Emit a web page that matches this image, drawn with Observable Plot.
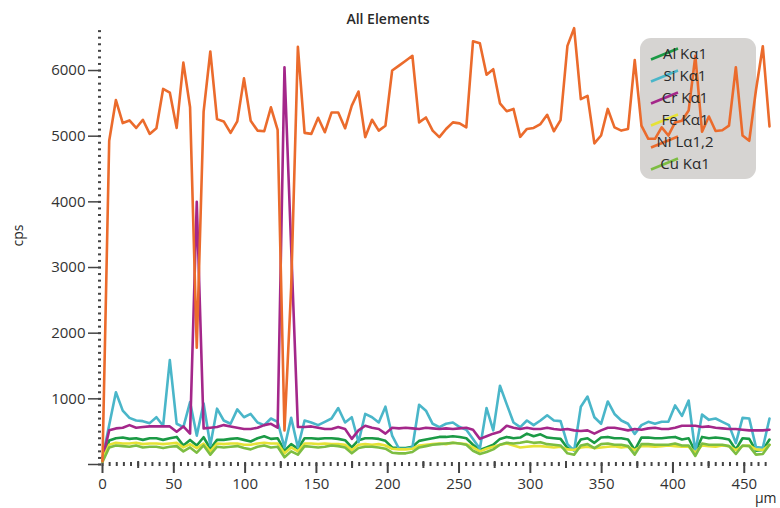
<!DOCTYPE html>
<html><head><meta charset="utf-8">
<script src="https://cdn.jsdelivr.net/npm/d3@7"></script>
<script src="https://cdn.jsdelivr.net/npm/@observablehq/plot@0.6"></script>
<style>
body{margin:0;background:#fff;}
#chart{width:780px;height:508px;}
</style></head><body><div id="chart"></div>
<script>
// distance along the line scan (µm)
const distanceUm = [
  0, 4.7, 9.4, 14.2, 18.9, 23.6, 28.3, 33.1, 37.8, 42.5,
  47.2, 52.0, 56.7, 61.4, 66.1, 70.9, 75.6, 80.3, 85.0, 89.8,
  94.5, 99.2, 103.9, 108.7, 113.4, 118.1, 122.8, 127.6, 132.3, 137.0,
  141.7, 146.4, 151.2, 155.9, 160.6, 165.3, 170.1, 174.8, 179.5, 184.2,
  189.0, 193.7, 198.4, 203.1, 207.9, 212.6, 217.3, 222.0, 226.8, 231.5,
  236.2, 240.9, 245.7, 250.4, 255.1, 259.8, 264.6, 269.3, 274.0, 278.7,
  283.4, 288.2, 292.9, 297.6, 302.3, 307.1, 311.8, 316.5, 321.2, 326.0,
  330.7, 335.4, 340.1, 344.9, 349.6, 354.3, 359.0, 363.8, 368.5, 373.2,
  377.9, 382.7, 387.4, 392.1, 396.8, 401.5, 406.3, 411.0, 415.7, 420.4,
  425.2, 429.9, 434.6, 439.3, 444.1, 448.8, 453.5, 458.2, 463.0, 467.7
];
const alKa1 = [
  60, 365, 400, 410, 390, 400, 375, 400, 400, 375,
  400, 420, 290, 375, 290, 415, 240, 375, 375, 390,
  400, 375, 350, 400, 430, 390, 400, 210, 310, 240,
  400, 400, 390, 400, 400, 390, 370, 260, 370, 400,
  400, 390, 360, 260, 250, 250, 270, 360, 380, 400,
  420, 420, 430, 420, 400, 300, 220, 260, 300, 390,
  420, 400, 410, 470, 430, 460, 410, 400, 390, 250,
  230, 380, 400, 330, 410, 420, 400, 400, 380, 220,
  410, 410, 400, 400, 410, 420, 380, 400, 190, 420,
  400, 410, 400, 380, 230, 400, 390, 210, 220, 380
];
const siKa1 = [
  100, 600, 1100, 820, 710, 670, 660, 630, 720, 590,
  1590, 620, 570, 950, 440, 930, 290, 850, 670, 620,
  840, 720, 770, 640, 600, 700, 650, 260, 710, 260,
  670, 640, 600, 650, 700, 860, 640, 720, 340, 770,
  720, 640, 880, 440, 240, 240, 260, 910, 820, 620,
  570, 620, 640, 570, 530, 390, 240, 860, 520, 1200,
  920, 640, 570, 670, 600, 670, 750, 670, 660, 310,
  210, 880, 1035, 720, 620, 960, 770, 670, 620, 465,
  600, 650, 620, 650, 650, 900, 740, 975, 190, 760,
  680, 700, 650, 600, 325, 710, 700, 265, 255, 700
];
const crKa1 = [
  90, 520, 550, 560, 600, 560, 570, 580, 580, 580,
  580, 500, 580, 470, 4000, 550, 560, 570, 600, 580,
  560, 540, 540, 560, 600, 620, 560, 6050, 3300, 570,
  570, 580, 560, 540, 540, 570, 540, 390, 520, 590,
  560, 540, 470, 560, 550, 560, 550, 540, 560, 550,
  540, 550, 540, 550, 560, 530, 390, 430, 470, 500,
  590, 560, 540, 560, 540, 540, 560, 540, 530, 540,
  520, 510, 520, 470, 520, 560, 560, 540, 520, 540,
  530, 550, 560, 540, 540, 560, 590, 590, 590, 570,
  580, 560, 550, 540, 540, 530, 520, 520, 520, 530
];
const feKa1 = [
  80, 300, 330, 320, 320, 330, 310, 320, 320, 310,
  320, 330, 260, 310, 250, 320, 200, 320, 310, 320,
  320, 300, 300, 320, 330, 320, 320, 170, 260, 200,
  320, 320, 310, 320, 310, 310, 300, 220, 300, 310,
  300, 310, 290, 240, 230, 230, 240, 290, 300, 310,
  320, 310, 330, 320, 310, 260, 200, 240, 270, 300,
  320, 290, 260, 270, 280, 280, 270, 260, 270, 230,
  220, 260, 270, 250, 260, 270, 280, 260, 270, 220,
  280, 280, 270, 280, 290, 280, 270, 270, 180, 290,
  280, 270, 290, 280, 220, 280, 290, 230, 220, 300
];
const niLa12 = [
  50, 4930, 5550, 5200, 5240, 5125, 5250, 5035, 5120, 5720,
  5665, 5125, 6120, 5440, 1780, 5375, 6290, 5260, 5225, 5050,
  5225, 5880, 5235, 5085, 5075, 5440, 5095, 520, 2700, 6360,
  5050, 5035, 5280, 5060, 5360, 5360, 5120, 5465, 5680, 4985,
  5250, 5085, 5160, 6000, 6075, 6150, 6225, 5210, 5285, 5085,
  4985, 5110, 5210, 5195, 5135, 6445, 6415, 5935, 6020, 5500,
  5380, 5415, 4990, 5110, 5125, 5185, 5325, 5075, 5245, 6375,
  6645, 5565, 5615, 4890, 5010, 5415, 5135, 5085, 5110, 6160,
  5160, 4960, 4960, 5135, 5010, 5210, 5235, 5390, 6225, 5070,
  5300, 5080, 5090, 5160, 6050, 5010, 4930, 5700, 6370, 5150
];
const cuKa1 = [
  40, 260, 290, 280, 270, 290, 260, 270, 270, 250,
  270, 280, 200, 260, 180, 290, 150, 270, 260, 270,
  280, 250, 230, 270, 290, 260, 270, 110, 200, 150,
  280, 270, 260, 270, 290, 280, 260, 170, 250, 270,
  270, 260, 240, 180, 170, 170, 190, 260, 280, 300,
  310, 320, 330, 320, 300, 210, 160, 190, 230, 300,
  330, 320, 330, 350, 330, 340, 310, 300, 290, 170,
  150, 290, 310, 250, 310, 320, 300, 300, 280, 150,
  310, 310, 300, 300, 300, 320, 290, 290, 130, 320,
  300, 300, 300, 280, 160, 290, 280, 150, 160, 300
];

const seriesNames  = ["Al Kα1", "Si Kα1", "Cr Kα1", "Fe Kα1", "Ni Lα1,2", "Cu Kα1"];
const seriesValues = [alKa1, siKa1, crKa1, feKa1, niLa12, cuKa1];
const seriesColors = ["#1b9a45", "#4ab6c9", "#a4278a", "#e6e236", "#eb6b2c", "#7dbd42"];
const drawOrder    = [0, 1, 2, 3, 5, 4]; // Ni drawn last (over the legend box)

const yMajorTicks = [0, 1000, 2000, 3000, 4000, 5000, 6000];
const yTickLabels = ["", "1000", "2000", "3000", "4000", "5000", "6000"];
const yMinorStep = 100;
const xMajorTicks = [0, 50, 100, 150, 200, 250, 300, 350, 400, 450];
const xMidStep = 25;
const xMinorStep = 5;

const W = 780, H = 508, mL = 102, mR = 11, mT = 28, mB = 44;
const font = "'Open Sans', 'Noto Sans', sans-serif";

const rowsFor = s => seriesValues[s].map((v, i) => ({x: distanceUm[i], y: v, series: seriesNames[s]}));

const yMinor = d3.range(0, 6601, yMinorStep);
const xMinor = d3.range(0, 466, xMinorStep);
const xMid = d3.range(25, 466, xMidStep * 2);

function legendBox() {
  const g = d3.create("svg:g");
  g.append("rect")
    .attr("x", W - mR - 129).attr("y", mT + 10)
    .attr("width", 116).attr("height", 141)
    .attr("rx", 11).attr("fill", "#d6d4d2");
  return g.node();
}
function legendItems() {
  const g = d3.create("svg:g");
  const x0 = W - mR - 129;
  seriesNames.forEach((name, k) => {
    const cy = mT + 26 + k * 22;
    g.append("line")
      .attr("x1", x0 + 11).attr("y1", cy + 5.5)
      .attr("x2", x0 + 38).attr("y2", cy - 5.5)
      .attr("stroke", seriesColors[k]).attr("stroke-width", 2.5);
    g.append("text")
      .attr("x", x0 + 45).attr("y", cy).attr("dy", "0.35em")
      .attr("font-size", 15).attr("fill", "#2a2a2a")
      .text(name);
  });
  return g.node();
}

const lineMark = s => Plot.line(rowsFor(s), {
  x: "x", y: "y", stroke: seriesColors[s], strokeWidth: 2.6,
  strokeLinejoin: "round", strokeLinecap: "round"
});

const marks = [
  Plot.axisY(yMinor, {anchor: "left", label: null, tickSize: 3, strokeWidth: 2, stroke: "#444", dx: -1, tickFormat: () => ""}),
  Plot.axisY(yMajorTicks, {anchor: "left", label: null, tickSize: 13, tickPadding: 3, strokeWidth: 1.5, stroke: "#444", dx: -1,
    tickFormat: d => yTickLabels[yMajorTicks.indexOf(d)], fontSize: 15, fill: "#333"}),
  Plot.axisX(xMinor, {anchor: "bottom", label: null, tickSize: 4, strokeWidth: 2, stroke: "#444", dy: -2, tickFormat: () => ""}),
  Plot.axisX(xMid, {anchor: "bottom", label: null, tickSize: 7, strokeWidth: 2, stroke: "#444", dy: -3, tickFormat: () => ""}),
  Plot.axisX(xMajorTicks, {anchor: "bottom", label: null, tickSize: 10, tickPadding: 5, strokeWidth: 2, stroke: "#444", dy: -1,
    fontSize: 15, fill: "#333"}),
  ...drawOrder.filter(s => s !== 4).map(lineMark),
  legendBox,
  lineMark(4),
  legendItems,
  Plot.text(["All Elements"], {frameAnchor: "top", dx: -48, dy: -14, fontSize: 14, fontWeight: 600, fill: "#2a2a2a"}),
  Plot.text(["cps"], {frameAnchor: "left", dx: -84, rotate: -90, fontSize: 14, fill: "#2a2a2a"}),
  Plot.text(["µm"], {frameAnchor: "bottom-right", dx: 7, dy: 38, fontSize: 14, fill: "#2a2a2a"})
];

const chart = Plot.plot({
  width: W, height: H,
  marginLeft: mL, marginRight: mR, marginTop: mT, marginBottom: mB,
  style: {fontFamily: font, background: "#fff", color: "#333", overflow: "visible"},
  x: {domain: [0, 467.7], label: null},
  y: {domain: [0, 6640], label: null},
  marks
});
document.getElementById("chart").appendChild(chart);
</script>
</body></html>
